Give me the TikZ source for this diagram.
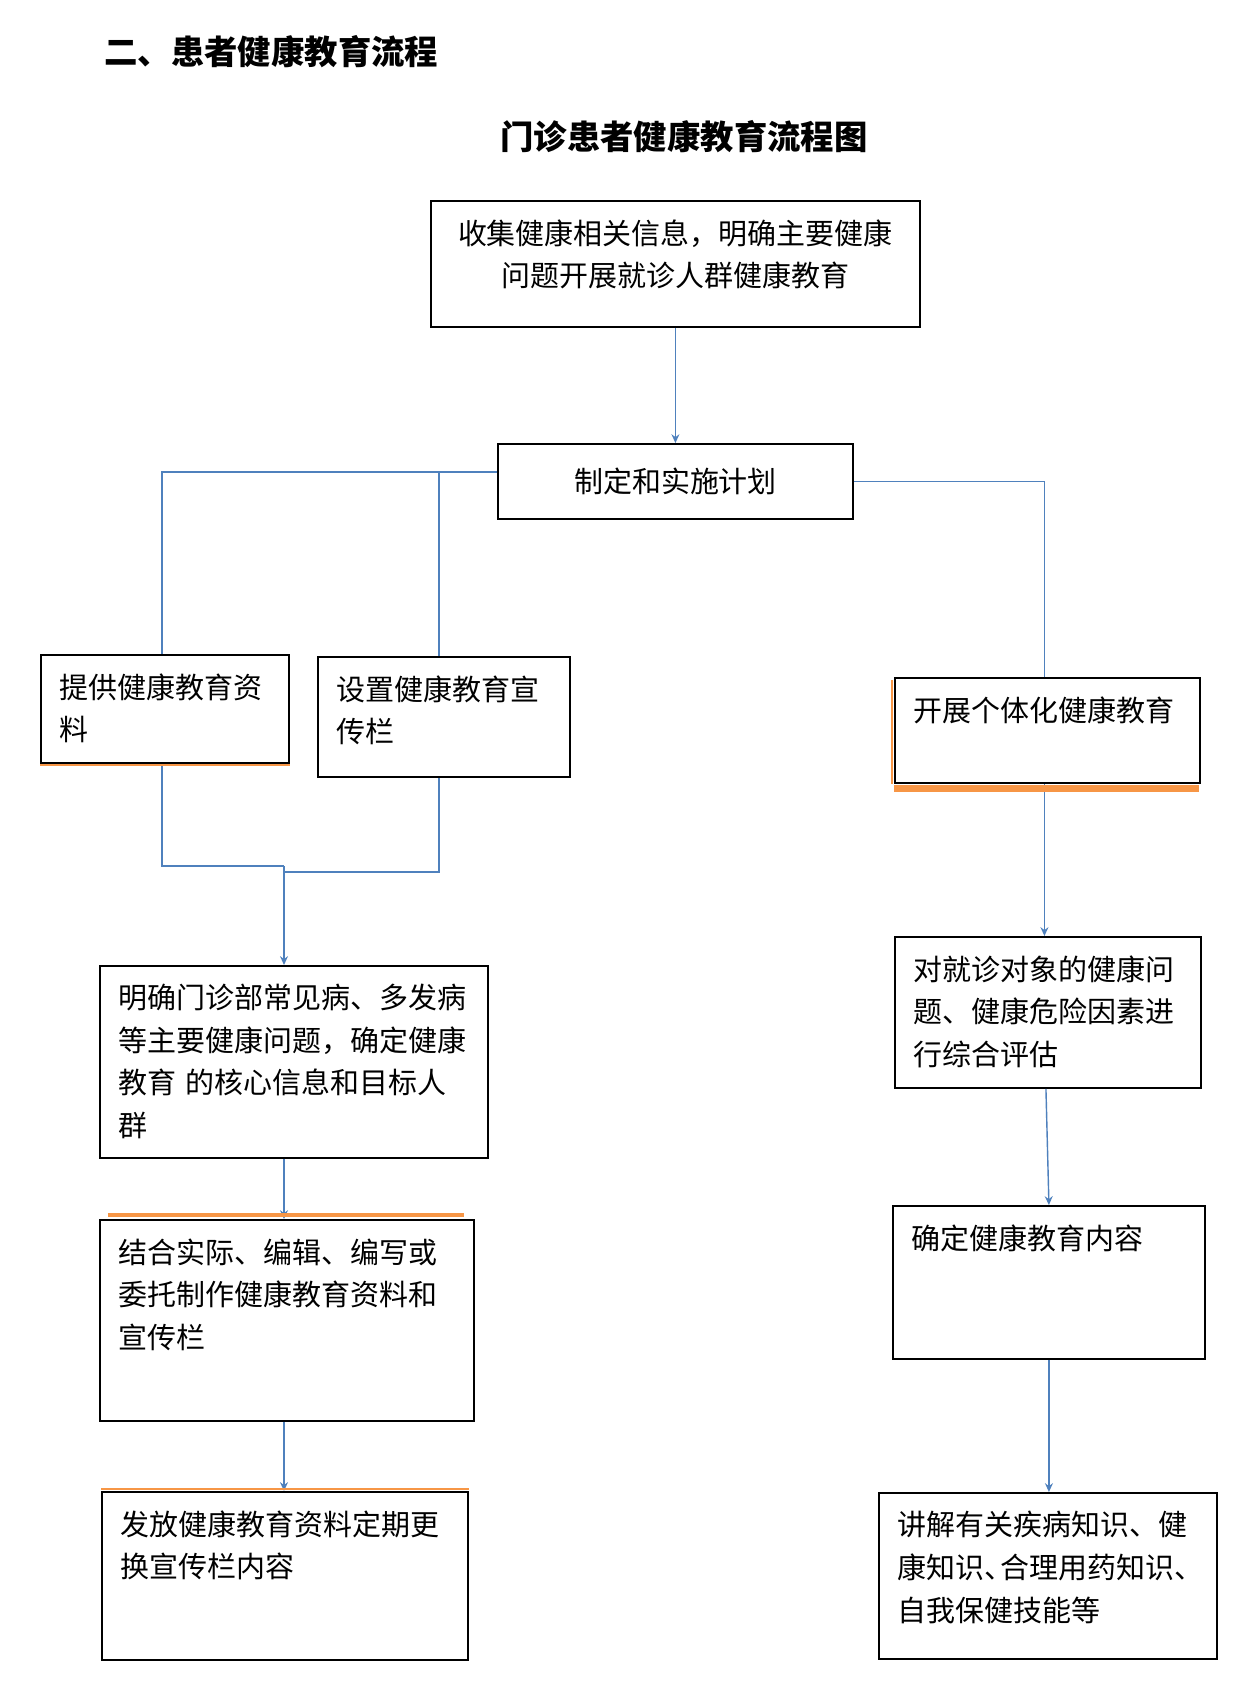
\documentclass[tikz,border=0pt]{standalone}
\usepackage{fontspec}
\setmainfont{Noto Sans CJK SC}
\usetikzlibrary{arrows.meta, positioning, calc}

\definecolor{linkblue}{RGB}{79,129,189}
\definecolor{accentor}{RGB}{247,150,70}
\newcommand{\tbox}[3]{\parbox[t][\dimexpr#2cm-0.74cm\relax][t]{\dimexpr#1cm-0.74cm\relax}{\raggedright#3}}
\newcommand{\ctbox}[3]{\parbox[t][\dimexpr#2cm-0.74cm\relax][t]{\dimexpr#1cm-0.74cm\relax}{\centering#3}}

\begin{document}
\begin{tikzpicture}[x=0.02cm,y=-0.02cm,
  stepbox/.style={rectangle,draw=black,line width=1.1pt,inner sep=0.37cm,anchor=north west,font=\fontsize{16.5pt}{24.2pt}\selectfont},
  plan/.style={rectangle,draw=black,line width=1.1pt,minimum width=7.1cm,minimum height=1.5cm,font=\fontsize{16.5pt}{24.2pt}\selectfont},
  heading/.style={font=\bfseries\fontsize{19pt}{23pt}\selectfont,inner sep=0pt},
  fl/.style={-{Stealth[length=5pt,width=4.5pt]},draw=linkblue,line width=0.8pt},
  ln/.style={draw=linkblue,line width=0.8pt},
  acc/.style={draw=accentor,line width=1.2pt}
]
  \path[use as bounding box,fill=white] (0,0) rectangle (1260,1706);

  \node[heading,anchor=west] (sectitle) at (104,52) {二、患者健康教育流程};
  \node[heading] (charttitle) at (684,137) {门诊患者健康教育流程图};

  \node[stepbox] (collect)  at (430,200)  {\ctbox{9.78}{2.52}{收集健康相关信息，明确主要健康\\问题开展就诊人群健康教育}};
  \node[plan]    (plan)     at (675.5,481.5) {制定和实施计划};
  \node[stepbox] (material) at (40,654)   {\tbox{4.96}{2.16}{提供健康教育资\\料}};
  \node[stepbox] (board)    at (317,656)  {\tbox{5.04}{2.4}{设置健康教育宣\\传栏}};
  \node[stepbox] (personal) at (894,677)  {\tbox{6.1}{2.1}{开展个体化健康教育}};
  \node[stepbox] (define)   at (99,965)   {\tbox{7.76}{3.84}{明确门诊部常见病、多发病\\等主要健康问题，确定健康\\教育\hspace{0.3em}的核心信息和目标人\\群}};
  \node[stepbox] (compose)  at (99,1219)  {\tbox{7.48}{4.02}{结合实际、编辑、编写或\\委托制作健康教育资料和\\宣传栏}};
  \node[stepbox] (issue)    at (101,1491) {\tbox{7.32}{3.36}{发放健康教育资料定期更\\换宣传栏内容}};
  \node[stepbox] (assess)   at (894,936)  {\tbox{6.12}{3.02}{对就诊对象的健康问\\题、健康危险因素进\\行综合评估}};
  \node[stepbox] (content)  at (892,1205) {\tbox{6.24}{3.06}{确定健康教育内容}};
  \node[stepbox] (explain)  at (878,1492) {\tbox{6.76}{3.32}{讲解有关疾病知识、健\\康知识、\kern-0.45em合理用药知识、\\自我保健技能等}};

  \coordinate (joinA) at (284,866);
  \coordinate (joinB) at (284,872);

  \draw[fl] (collect.south) -- (collect.south |- plan.north);
  \draw[ln] ([yshift=0.19cm]plan.west) -| ([xshift=-0.06cm]material.north);
  \draw[ln] ([yshift=0.19cm]plan.west) -| ([xshift=-0.1cm]board.north);
  \draw[ln] (plan.east) -| ([xshift=-0.06cm]personal.north);
  \draw[ln] ([xshift=-0.06cm]material.south) |- (joinA);
  \draw[ln] ([xshift=-0.1cm]board.south) |- (joinB);
  \draw[fl] (joinA) -- (joinA |- define.north);
  \draw[fl] (define.south -| joinA) -- (compose.north -| joinA);
  \draw[fl] (compose.south -| joinA) -- (issue.north -| joinA);
  \draw[fl] ([xshift=-0.06cm]personal.south) -- ([xshift=-0.06cm]personal.south |- assess.north);
  \draw[fl] ([xshift=-0.04cm]assess.south) -- (content.north);
  \draw[fl] (content.south) -- (content.south |- explain.north);

  \draw[acc] ([yshift=-0.6pt]material.south west) -- ([yshift=-0.6pt]material.south east);
  \draw[acc,line width=3.6pt] ([yshift=-2.6pt]personal.south west) -- ([xshift=-0.04cm,yshift=-2.6pt]personal.south east);
  \draw[acc,line width=0.9pt] ([xshift=-1pt,yshift=-0.06cm]personal.north west) -- ([xshift=-1pt]personal.south west);
  \draw[acc,line width=2.6pt] ([xshift=0.18cm,yshift=2.2pt]compose.north west) -- ([xshift=-0.22cm,yshift=2.2pt]compose.north east);
  \draw[acc] ([yshift=1pt]issue.north west) -- ([yshift=1pt]issue.north east);
\end{tikzpicture}
\end{document}
